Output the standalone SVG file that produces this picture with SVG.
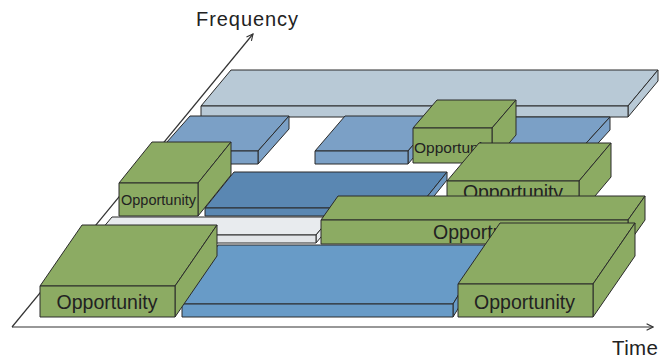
<svg xmlns="http://www.w3.org/2000/svg" width="661" height="363" viewBox="0 0 661 363">
<defs>
<style>
.s{stroke:#2a2a2a;stroke-width:1;stroke-linejoin:round}
.g{fill:#8cab63}
.lb{fill:#b8c9d6}
.b2{fill:#7ba0c6}
.db{fill:#5a87b2}
.lo{fill:#689bc7}
.gr{fill:#e8ebee}
.t{font-family:"Liberation Sans",Arial,sans-serif;fill:#222}
.ax{stroke:#333;stroke-width:1.2;fill:none}
</style>
<marker id="arr" viewBox="0 0 10 10" refX="9" refY="5" markerWidth="8" markerHeight="8" orient="auto" markerUnits="userSpaceOnUse">
<path d="M1,1 L9,5 L1,9" fill="none" stroke="#333" stroke-width="1.4"/>
</marker>
</defs>
<rect width="661" height="363" fill="#fff"/>
<g id="connectors">
<line class="ax" x1="12" y1="327" x2="653" y2="327" marker-end="url(#arr)"/>
<line class="ax" x1="12" y1="327" x2="253" y2="34" marker-end="url(#arr)"/>
</g>
<text class="t" x="196" y="26" font-size="20" textLength="102" fill="#333">Frequency</text>
<text class="t" x="612" y="355" font-size="20.5" textLength="46">Time</text>

<g id="lightbar">
<polygon class="s lb" points="201,106 231,70 658,70 628,106"/>
<polygon class="s lb" points="628,106 658,70 658,81 628,117"/>
<rect class="s lb" x="201" y="106" width="427" height="11"/>
</g>
<g id="blue-left">
<polygon class="s b2" points="159,151 190,116 289,116 258,151"/>
<polygon class="s b2" points="258,151 289,116 289,129 258,164"/>
<rect class="s b2" x="159" y="151" width="99" height="13"/>
</g>
<g id="blue-mid">
<polygon class="s b2" points="315,151 345,116 438,116 408,151"/>
<polygon class="s b2" points="408,151 438,116 438,129 408,164"/>
<rect class="s b2" x="315" y="151" width="93" height="13"/>
</g>
<g id="blue-right">
<polygon class="s b2" points="465,151 496,117 610,117 579,151"/>
<polygon class="s b2" points="579,151 610,117 610,130 579,164"/>
<rect class="s b2" x="465" y="151" width="114" height="13"/>
</g>
<g id="opp-top">
<polygon class="s g" points="413,128 437,100 516,100 492,128"/>
<polygon class="s g" points="492,128 516,100 516,135 492,163"/>
<rect class="s g" x="413" y="128" width="79" height="35"/>
<text class="t" x="414" y="153" font-size="15.5">Opportunity</text>
</g>
<g id="opp-mid-right">
<polygon class="s g" points="447,181 479,143 611,143 579,181"/>
<polygon class="s g" points="579,181 611,143 611,177 579,215"/>
<rect class="s g" x="447" y="181" width="132" height="34"/>
<text class="t" x="513" y="199" font-size="19.5" text-anchor="middle" textLength="100">Opportunity</text>
</g>
<g id="darkblue">
<polygon class="s db" points="205,208 234,172 447,172 418,208"/>
<polygon class="s" fill="#6d97c0" points="418,208 447,172 447,180 418,216"/>
<rect class="s db" x="205" y="208" width="213" height="8"/>
</g>
<g id="opp-small-left">
<polygon class="s g" points="119,183 152,142 231,142 198,183"/>
<polygon class="s g" points="198,183 231,142 231,175 198,216"/>
<rect class="s g" x="119" y="183" width="79" height="33"/>
<text class="t" x="158.5" y="205" font-size="14.5" text-anchor="middle" textLength="75">Opportunity</text>
</g>
<g id="graybar">
<polygon class="s gr" points="97,235 112,217 331,217 316,235"/>
<polygon class="s gr" points="316,235 331,217 331,225 316,243"/>
<rect class="s" fill="#e2e5e8" x="97" y="235" width="219" height="8"/>
</g>
<g id="opp-long">
<polygon class="s g" points="321,220 338,196 645,196 628,220"/>
<polygon class="s g" points="628,220 645,196 645,220 628,244"/>
<rect class="s g" x="321" y="220" width="307" height="24"/>
<text class="t" x="433" y="239" font-size="19.5" textLength="101">Opportunity</text>
</g>
<g id="blue-lower">
<polygon class="s lo" points="182,304 218,245 489,245 453,304"/>
<polygon class="s lo" points="453,304 489,245 489,258 453,317"/>
<rect class="s lo" x="182" y="304" width="271" height="13"/>
</g>
<g id="opp-bottom-left">
<polygon class="s g" points="40,286 82,225 217,225 175,286"/>
<polygon class="s g" points="175,286 217,225 217,256 175,317"/>
<rect class="s g" x="40" y="286" width="135" height="31"/>
<text class="t" x="107" y="309" font-size="19.5" text-anchor="middle" textLength="101">Opportunity</text>
</g>
<g id="opp-bottom-right">
<polygon class="s g" points="458,284 500,223 635,223 593,284"/>
<polygon class="s g" points="593,284 635,223 635,256 593,317"/>
<rect class="s g" x="458" y="284" width="135" height="33"/>
<text class="t" x="524.5" y="309" font-size="19.5" text-anchor="middle" textLength="101">Opportunity</text>
</g>
</svg>
